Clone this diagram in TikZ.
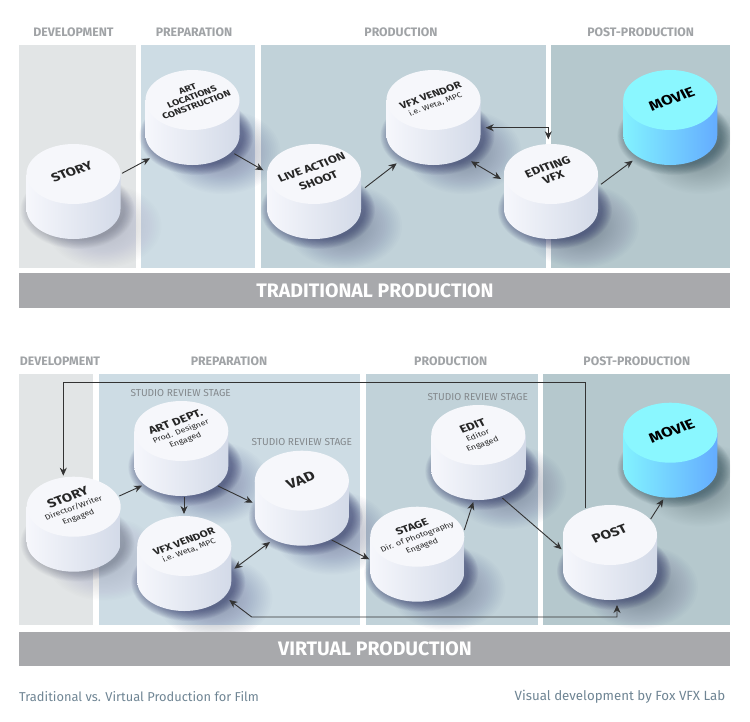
\documentclass[tikz,border=0pt]{standalone}
\usepackage{fontspec}
\setmainfont{Fira Sans}
\usetikzlibrary{arrows.meta,shapes.geometric,calc}
\definecolor{pdev}{HTML}{E2E5E6}
\definecolor{pprep}{HTML}{CDDCE4}
\definecolor{pprod}{HTML}{C1D2D9}
\definecolor{ppost}{HTML}{B5C8CD}
\definecolor{barc}{HTML}{A8A9AC}
\definecolor{headc}{HTML}{A0A3A6}
\definecolor{revc}{HTML}{83888C}
\definecolor{footc}{HTML}{6F8594}
\definecolor{shc}{HTML}{2E3566}
\definecolor{shs}{HTML}{4A4F63}
\definecolor{shm}{HTML}{2C4A55}
\definecolor{sidel}{HTML}{F6F7FC}
\definecolor{sider}{HTML}{D3DAE8}
\definecolor{topw}{HTML}{F6F7FB}
\definecolor{movl}{HTML}{82F2FF}
\definecolor{movr}{HTML}{64ACFF}
\definecolor{movt}{HTML}{8AF7FF}
\tikzset{
  panel/.style={draw=none},
  barbox/.style={fill=barc,draw=none},
  headtxt/.style={text=headc,font=\fontsize{12.3}{13}\selectfont\bfseries,inner sep=0pt},
  bartxt/.style={text=white,font=\fontsize{19.5}{20}\selectfont\bfseries,inner sep=0pt},
  revtxt/.style={text=revc,font=\fontsize{10.1}{11}\selectfont,inner sep=0pt},
  foottxt/.style={text=footc,font=\fontsize{12.85}{13}\selectfont,inner sep=0pt},
  cylface/.style={ellipse,minimum width=94pt,minimum height=60pt,inner sep=0pt,outer sep=0pt,draw=none},
  toptxt/.style={cm={.94,.34,-.4,.75,(0,0)},align=center,inner sep=0pt,text=black!85,
     font=\fontsize{14.5}{14.5}\selectfont\bfseries},
  conn/.style={draw=black!80,line width=.9pt,-{Stealth[length=8pt,width=7pt]}},
  conntwo/.style={draw=black!80,line width=.9pt,{Stealth[length=8pt,width=7pt]}-{Stealth[length=8pt,width=7pt]}}
}
\newcommand{\smalltxt}{\fontsize{8.8}{9}\selectfont\mdseries}
% cx cy strength colour
\newcommand{\softshadow}[4]{%
  \foreach \k in {0,...,23}{%
    \pgfmathsetmacro{\rx}{58-\k*1.9}\pgfmathsetmacro{\ry}{42-\k*1.3}%
    \fill[#4,opacity=#3*0.014] (#1+30,#2+52) ellipse [x radius=\rx pt,y radius=\ry pt];}%
  \foreach \k in {0,...,11}{%
    \pgfmathsetmacro{\rx}{57-\k*.9}\pgfmathsetmacro{\ry}{39-\k*.8}%
    \fill[#4,opacity=#3*0.055] (#1+4,#2+36) ellipse [x radius=\rx pt,y radius=\ry pt];}%
}
% name cx cy left right top
\newcommand{\cylinder}[6]{%
  \shade[left color=#4,right color=#5] (#2-47,#3) -- (#2-47,#3+35)
     arc [start angle=180,end angle=360,x radius=47pt,y radius=30pt] -- (#2+47,#3) -- cycle;
  \node[cylface,fill=#6] (#1) at (#2,#3) {};
}
\begin{document}
\begin{tikzpicture}[x=1pt,y=-1pt]
\useasboundingbox (0,0) rectangle (750,721);
\fill[white] (0,0) rectangle (750,721);
% panels top
\fill[panel,pdev] (19,45) rectangle (135.5,267.5);
\fill[panel,pprep] (141,45) rectangle (255,267.5);
\fill[panel,pprod] (261,45) rectangle (545.5,267.5);
\fill[panel,ppost] (550.7,45) rectangle (730,267.5);
% panels bottom
\fill[panel,pdev] (19,374) rectangle (93,625.3);
\fill[panel,pprep] (99,374) rectangle (360.3,625.3);
\fill[panel,pprod] (366,374) rectangle (538,625.3);
\fill[panel,ppost] (543,374) rectangle (730,625.3);
% shadows
\begin{scope}
\clip (19,40) rectangle (730,640);
\softshadow{73.5}{174}{.6}{shs}
\softshadow{192.5}{100}{1}{shc}
\softshadow{314}{174}{1}{shc}
\softshadow{433.5}{100}{1}{shc}
\softshadow{551}{174}{1}{shc}
\softshadow{670.3}{100}{.9}{shm}
\softshadow{73.7}{506.7}{.6}{shs}
\softshadow{181.3}{431}{1}{shc}
\softshadow{184.3}{546}{1}{shc}
\softshadow{301.9}{480.7}{1}{shc}
\softshadow{417.3}{536.7}{1}{shc}
\softshadow{478.3}{435}{1}{shc}
\softshadow{610}{535}{1}{shc}
\softshadow{670.3}{432.7}{.9}{shm}
\end{scope}
% bars
\fill[barbox] (19,273.3) rectangle (730,307.7);
\fill[barbox] (19,631.7) rectangle (730,665.7);
\node[bartxt] (bartrad) at (375,290.5) {TRADITIONAL PRODUCTION};
\node[bartxt] (barvirt) at (375,648.7) {VIRTUAL PRODUCTION};
% headers
\node[headtxt] (h1) at (73.5,32) {DEVELOPMENT};
\node[headtxt] (h2) at (194,32) {PREPARATION};
\node[headtxt] (h3) at (401,32) {PRODUCTION};
\node[headtxt] (h4) at (640.7,32) {POST-PRODUCTION};
\node[headtxt] (h5) at (60,361) {DEVELOPMENT};
\node[headtxt] (h6) at (229,361) {PREPARATION};
\node[headtxt] (h7) at (450.8,361) {PRODUCTION};
\node[headtxt] (h8) at (636.8,361) {POST-PRODUCTION};
\node[revtxt] (r1) at (180.7,392.7) {STUDIO REVIEW STAGE};
\node[revtxt] (r2) at (301.8,441.7) {STUDIO REVIEW STAGE};
\node[revtxt] (r3) at (477.8,397.3) {STUDIO REVIEW STAGE};
\node[foottxt,anchor=west] (f1) at (19,696.7) {Traditional vs. Virtual Production for Film};
\node[foottxt,anchor=east,font=\fontsize{13.3}{14}\selectfont] (f2) at (725.5,696.7) {Visual development by Fox VFX Lab};
% cylinders top
\cylinder{tstory}{73.5}{174}{sidel}{sider}{topw}
\cylinder{tart}{192.5}{100}{sidel}{sider}{topw}
\cylinder{tlive}{314}{174}{sidel}{sider}{topw}
\cylinder{tvfx}{433.5}{100}{sidel}{sider}{topw}
\cylinder{tedit}{551}{174}{sidel}{sider}{topw}
\cylinder{tmovie}{670.3}{100}{movl}{movr}{movt}
% cylinders bottom
\cylinder{bstory}{73.7}{506.7}{sidel}{sider}{topw}
\cylinder{bart}{181.3}{431}{sidel}{sider}{topw}
\cylinder{bvfx}{184.3}{546}{sidel}{sider}{topw}
\cylinder{bvad}{301.9}{480.7}{sidel}{sider}{topw}
\cylinder{bstage}{417.3}{536.7}{sidel}{sider}{topw}
\cylinder{bedit}{478.3}{435}{sidel}{sider}{topw}
\cylinder{bpost}{610}{535}{sidel}{sider}{topw}
\cylinder{bmovie}{670.3}{432.7}{movl}{movr}{movt}
% labels top
\node[toptxt] (ltstory) at (71.7,171.7) {STORY};
\node[toptxt,font=\fontsize{10.2}{11}\selectfont\bfseries] (ltart) at (192,97) {ART\\LOCATIONS\\CONSTRUCTION};
\node[toptxt,font=\fontsize{12.8}{17}\selectfont\bfseries] (ltlive) at (315,174) {LIVE ACTION\\SHOOT};
\node[toptxt,font=\fontsize{11.5}{11}\selectfont\bfseries] (ltvfx) at (433,100) {VFX VENDOR\\{\smalltxt i.e. Weta, MPC}};
\node[toptxt,font=\fontsize{13}{14}\selectfont\bfseries] (ltedit) at (550.5,172) {EDITING\\VFX};
\node[toptxt,font=\fontsize{16.5}{16}\selectfont\bfseries,text=black] (ltmovie) at (671.7,99) {MOVIE};
% labels bottom
\node[toptxt,font=\fontsize{14.5}{12}\selectfont\bfseries] (lbstory) at (73,507) {STORY\\{\smalltxt Director/Writer}\\{\smalltxt Engaged}};
\node[toptxt,font=\fontsize{12.7}{11.5}\selectfont\bfseries] (lbart) at (180.5,431) {ART DEPT.\\{\smalltxt Prod. Designer}\\{\smalltxt Engaged}};
\node[toptxt,font=\fontsize{11.5}{11}\selectfont\bfseries] (lbvfx) at (186.5,546) {VFX VENDOR\\{\smalltxt i.e. Weta, MPC}};
\node[toptxt,font=\fontsize{16}{16}\selectfont\bfseries] (lbvad) at (300.7,480) {VAD};
\node[toptxt,font=\fontsize{12}{12}\selectfont\bfseries] (lbstage) at (417,536.5) {STAGE\\{\smalltxt Dir. of Photography}\\{\smalltxt Engaged}};
\node[toptxt,font=\fontsize{13}{11.5}\selectfont\bfseries] (lbedit) at (477.5,435) {EDIT\\{\smalltxt Editor}\\{\smalltxt Engaged}};
\node[toptxt,font=\fontsize{15}{15}\selectfont\bfseries] (lbpost) at (609.3,534) {POST};
\node[toptxt,font=\fontsize{16.5}{16}\selectfont\bfseries,text=black] (lbmovie) at (671.7,431) {MOVIE};
% connectors top
\draw[conn] ([shift={(48.5,-.7)}]tstory.center) -- ([shift={(-42.5,58.3)}]tart.center);
\draw[conn] ([shift={(41.8,53.7)}]tart.center) -- ([shift={(-50.7,-3.7)}]tlive.center);
\draw[conn] ([shift={(51,13.7)}]tlive.center) -- ([shift={(-36.8,63.3)}]tvfx.center);
\draw[conntwo] ([shift={(37.5,61.3)}]tvfx.center) -- ([shift={(-50,5)}]tedit.center);
\draw[conntwo] ([shift={(52.2,27.7)}]tvfx.center) -| ([shift={(-2.7,-34.7)}]tedit.center);
\draw[conn] ([shift={(50,10.3)}]tedit.center) -- ([shift={(-37.6,60.7)}]tmovie.center);
% connectors bottom
\coordinate (loopcorner) at (63.3,382.7);
\coordinate (returncorner) at (251.7,617);
\draw[conn] ([shift={(-24.7,-26.7)}]bpost.center) |- (loopcorner) -- ([shift={(-10.4,-31)}]bstory.center);
\draw[conn] ([shift={(45.6,-10.7)}]bstory.center) -- ([shift={(-39.3,54.7)}]bart.center);
\draw[conn] ([shift={(2.7,65.7)}]bart.center) -- ([shift={(-.3,-32)}]bvfx.center);
\draw[conn] ([shift={(36.7,55)}]bart.center) -- ([shift={(-49.2,22)}]bvad.center);
\draw[conntwo] ([shift={(50,22.7)}]bvfx.center) -- ([shift={(-31.9,61.3)}]bvad.center);
\draw[conn] ([shift={(29.8,59.3)}]bvad.center) -- ([shift={(-48,22.6)}]bstage.center);
\draw[conn] ([shift={(47,-6.7)}]bstage.center) -- ([shift={(-5,67)}]bedit.center);
\draw[conn] ([shift={(24,63)}]bedit.center) -- ([shift={(-48.3,14.3)}]bpost.center);
\draw[conn] ([shift={(40.7,-16)}]bpost.center) -- ([shift={(-7,66.6)}]bmovie.center);
\draw[conntwo] ([shift={(45,54)}]bvfx.center) -- (returncorner) -| ([shift={(7,70)}]bpost.center);
\end{tikzpicture}
\end{document}
